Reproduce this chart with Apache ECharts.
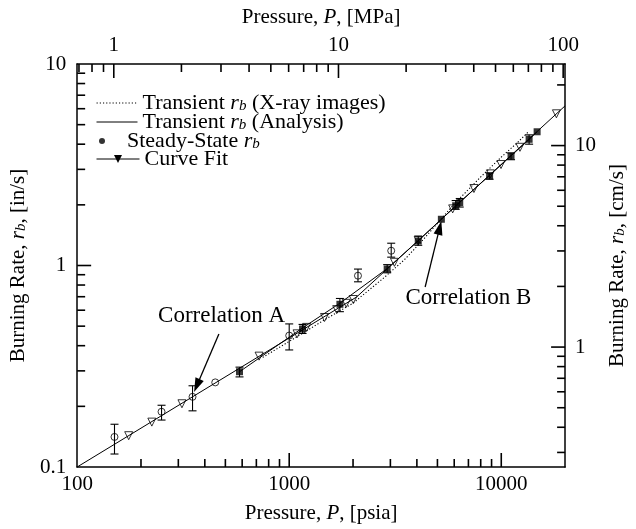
<!DOCTYPE html>
<html><head><meta charset="utf-8">
<script src="https://cdn.jsdelivr.net/npm/echarts@6/dist/echarts.min.js"></script>
<style>html,body{margin:0;padding:0;background:#fff}#c{width:636px;height:529px}</style>
</head><body><div id="c"></div>
<script>
const FONT = '"Liberation Serif","Times New Roman",serif';

// Curve fit (Correlation A then Correlation B): psia, in/s
const fitP = [100, 2080, 20000];
const fitR = [0.1, 0.698, 6.2];
// Curve-fit markers (open triangles)
const fitMarkP = [175, 225, 312, 721, 1089, 1208, 1468, 1675, 1857, 2005, 3135, 4060, 5900, 7430, 8890, 9970, 12250, 18200];
const fitMarkR = [0.143, 0.167, 0.206, 0.355, 0.458, 0.493, 0.552, 0.604, 0.649, 0.678, 1.037, 1.33, 1.91, 2.41, 2.85, 3.17, 3.86, 5.66];
// Transient r_b (Analysis)
const anaP = [583, 1156, 1734, 2897, 4060, 5218, 6230, 8810, 11120, 13530, 14760];
const anaR = [0.297, 0.49, 0.65, 0.965, 1.325, 1.696, 2.02, 2.8, 3.5, 4.22, 4.61];
// Transient r_b (X-ray images)
const xrayP = [750, 1000, 1500, 2000, 2800, 3500, 4300, 5000, 6000, 8000, 10000, 12000, 13400];
const xrayR = [0.35, 0.42, 0.545, 0.65, 0.87, 1.07, 1.35, 1.62, 2.02, 2.75, 3.45, 4.1, 4.6];
// Steady-state (filled squares) with error bars
const sqP  = [583, 1156, 1734, 2897, 4060, 5218, 6094, 6370, 8810, 11120, 13530, 14760];
const sqR  = [0.297, 0.484, 0.642, 0.961, 1.323, 1.696, 1.98, 2.05, 2.78, 3.49, 4.23, 4.61];
const sqLo = [0.28, 0.46, 0.59, 0.92, 1.26, null, 1.90, 1.95, 2.68, 3.35, 4.0, null];
const sqHi = [0.313, 0.51, 0.686, 1.01, 1.40, null, 2.10, 2.15, 2.88, 3.62, 4.45, null];
// Open circles with error bars
const ciP  = [150, 250, 350, 448, 1000, 2110, 3027];
const ciR  = [0.141, 0.188, 0.223, 0.263, 0.449, 0.89, 1.184];
const ciLo = [0.116, 0.171, 0.19, null, 0.381, 0.83, 1.10];
const ciHi = [0.163, 0.2025, 0.253, null, 0.513, 0.96, 1.29];

// Annotations: [psia, in/s]
const corrA_text = [480, 0.561];
const corrB_text = [7000, 0.690];
// arrows: [fromP, fromR, tipP, tipR]
const arrows = [
  [466, 0.457, 356, 0.2356],
  [4375, 0.782, 5218, 1.663]
];

// Tick values
const bottomMajor = [1000, 10000];
const bottomMinor = [200,300,400,500,600,700,800,900,2000,3000,4000,5000,6000,7000,8000,9000];
const topMajor = [1, 10, 100];
const topMinor = [0.7,0.8,0.9,2,3,4,5,6,7,8,9,20,30,40,50,60,70,80,90];
const leftMajor = [1];
const leftMinor = [0.2,0.3,0.4,0.5,0.6,0.7,0.8,0.9,2,3,4,5,6,7,8,9];
const rightMajor = [1, 10];
const rightMinor = [0.3,0.4,0.5,0.6,0.7,0.8,0.9,2,3,4,5,6,7,8,9,20];

const N_XRAY = 'Transient r_b (X-ray images)';
const N_ANA = 'Transient r_b (Analysis)';
const N_SS = 'Steady-State r_b';
const N_FIT = 'Curve Fit';

const zip = (a, b) => a.map((v, i) => [v, b[i]]);
const bars = [];
sqP.forEach((p, i) => { if (sqLo[i] != null) bars.push([p, sqLo[i], sqHi[i]]); });
ciP.forEach((p, i) => { if (ciLo[i] != null) bars.push([p, ciLo[i], ciHi[i]]); });

const BLACK = '#000';
const LEG_FS = 22, AX_FS = 21, ANN_FS = 23;
const rich = {
  i: { fontStyle: 'italic', fontFamily: FONT, fontSize: LEG_FS, color: BLACK },
  s: { fontStyle: 'italic', fontFamily: FONT, fontSize: 15, color: BLACK, verticalAlign: 'bottom', lineHeight: 14 }
};
const richAxis = {
  i: { fontStyle: 'italic', fontFamily: FONT, fontSize: AX_FS, color: BLACK },
  s: { fontStyle: 'italic', fontFamily: FONT, fontSize: 15, color: BLACK, verticalAlign: 'bottom', lineHeight: 14 }
};
const legendText = { fontFamily: FONT, fontSize: LEG_FS, color: BLACK, lineHeight: 22, rich: rich };
function fmtLegend(name) { return name.replace('r_b', '{i|r}{s|b}'); }
function fmtNum(v) { return String(+Number(v).toPrecision(6)); }

function axisCommon() {
  return {
    type: 'log', logBase: 10,
    axisLine: { show: true, lineStyle: { color: BLACK, width: 1.5 } },
    axisTick: { show: false },
    splitLine: { show: false },
    axisLabel: { color: BLACK, fontFamily: FONT, fontSize: AX_FS, formatter: fmtNum },
    nameLocation: 'middle',
    nameTextStyle: { color: BLACK, fontFamily: FONT, fontSize: AX_FS, rich: richAxis }
  };
}

const chart = echarts.init(document.getElementById('c'), null, { renderer: 'canvas' });
const xb = Object.assign(axisCommon(), { min: 100, max: 20000, position: 'bottom', name: 'Pressure, {i|P}, [psia]', nameGap: 36 });
xb.axisLabel = Object.assign({}, xb.axisLabel, { showMaxLabel: false, margin: 7 });
const xt = Object.assign(axisCommon(), { min: 0.687, max: 102, position: 'top', name: 'Pressure, {i|P}, [MPa]', nameGap: 36 });
xt.axisLabel = Object.assign({}, xt.axisLabel, { showMinLabel: false, showMaxLabel: false, margin: 8 });
const yl = Object.assign(axisCommon(), { min: 0.1, max: 10, position: 'left', name: 'Burning Rate, {i|r}{s|b}, [in/s]', nameGap: 42, nameRotate: 90 });
yl.axisLabel = Object.assign({}, yl.axisLabel, { margin: 11 });
const yr = Object.assign(axisCommon(), { min: 0.254, max: 25.4, position: 'right', name: 'Burning Rate, {i|r}{s|b}, [cm/s]', nameGap: 35, nameRotate: 90 });
yr.axisLabel = Object.assign({}, yr.axisLabel, { showMinLabel: false, showMaxLabel: false, margin: 10 });

// Axes and data series
try {
  chart.setOption({
    animation: false,
    grid: { left: 67, right: 56, top: 64, bottom: 60 },
    xAxis: [xb, xt],
    yAxis: [yl, yr],
    series: [
      { id: 'xray', name: N_XRAY, type: 'line', data: zip(xrayP, xrayR), symbol: 'none', z: 2,
        lineStyle: { color: BLACK, width: 1.1, type: [1.2, 2] }, itemStyle: { color: BLACK } },
      { id: 'ana', name: N_ANA, type: 'line', data: zip(anaP, anaR), symbol: 'none', z: 2,
        lineStyle: { color: BLACK, width: 1 }, itemStyle: { color: BLACK } },
      { id: 'fit', name: N_FIT, type: 'line', data: zip(fitP, fitR), symbol: 'triangle', symbolRotate: 180, showSymbol: false, z: 3,
        lineStyle: { color: BLACK, width: 1 }, itemStyle: { color: BLACK } },
      { id: 'rightHelper', name: 'rightHelper', type: 'line', yAxisIndex: 1, data: [], symbol: 'none' },
      { id: 'topHelper', name: 'topHelper', type: 'line', xAxisIndex: 1, data: [], symbol: 'none' },
      { id: 'arrows', name: 'arrows', type: 'custom', data: arrows, z: 7,
        encode: { x: [0, 2], y: [1, 3] },
        renderItem: function (params, api) {
          const a = api.coord([api.value(0), api.value(1)]);
          const b = api.coord([api.value(2), api.value(3)]);
          const dx = b[0] - a[0], dy = b[1] - a[1];
          const d = Math.sqrt(dx * dx + dy * dy);
          const ux = dx / d, uy = dy / d, nx = -uy, ny = ux;
          const HL = 14, HW = 4.5;
          const bx = b[0] - ux * HL, by = b[1] - uy * HL;
          return { type: 'group', children: [
            { type: 'line', shape: { x1: a[0], y1: a[1], x2: bx + ux * 2, y2: by + uy * 2 }, style: { stroke: BLACK, lineWidth: 1.3 } },
            { type: 'polygon', shape: { points: [[b[0], b[1]], [bx + nx * HW, by + ny * HW], [bx - nx * HW, by - ny * HW]] }, style: { fill: BLACK } }
          ] };
        } },
      { id: 'fitMarks', name: 'fitMarks', type: 'scatter', data: zip(fitMarkP, fitMarkR), symbol: 'triangle', symbolRotate: 180, symbolSize: 8, z: 5,
        itemStyle: { color: 'rgba(255,255,255,0)', borderColor: BLACK, borderWidth: 1 } },
      { id: 'errorBars', name: 'errorBars', type: 'custom', data: bars, z: 4,
        encode: { x: 0, y: [1, 2] },
        renderItem: function (params, api) {
          const x = api.value(0);
          const a = api.coord([x, api.value(1)]);
          const b = api.coord([x, api.value(2)]);
          const w = 4;
          const st = { stroke: BLACK, lineWidth: 1.1 };
          return { type: 'group', children: [
            { type: 'line', shape: { x1: a[0], y1: a[1], x2: b[0], y2: b[1] }, style: st },
            { type: 'line', shape: { x1: a[0] - w, y1: a[1], x2: a[0] + w, y2: a[1] }, style: st },
            { type: 'line', shape: { x1: b[0] - w, y1: b[1], x2: b[0] + w, y2: b[1] }, style: st }
          ] };
        } },
      { id: 'squares', name: N_SS, type: 'scatter', data: zip(sqP, sqR), symbol: 'rect', symbolSize: 7, z: 6,
        itemStyle: { color: BLACK } },
      { id: 'circles', name: 'openCircles', type: 'scatter', data: zip(ciP, ciR), symbol: 'circle', symbolSize: 7, z: 6,
        itemStyle: { color: 'rgba(255,255,255,0)', borderColor: BLACK, borderWidth: 1 } }
    ]
  });
} catch (e) { console.error(e); }

// Pixel lookup through the chart's own scales, trying several finders
function px(tries) {
  for (const t of tries) {
    try {
      let r = chart.convertToPixel(t[0], t[1]);
      if (Array.isArray(r)) r = r[t[2]];
      if (typeof r === 'number' && isFinite(r)) return r;
    } catch (e) { /* try next */ }
  }
  return NaN;
}
const xB = v => px([[{ seriesId: 'fit' }, [v, 1], 0], [{ xAxisIndex: 0, yAxisIndex: 0 }, [v, 1], 0], [{ xAxisIndex: 0 }, v, 0]]);
const xT = v => px([[{ xAxisIndex: 1 }, v, 0], [{ seriesId: 'topHelper' }, [v, 1], 0], [{ xAxisIndex: 1, yAxisIndex: 0 }, [v, 1], 0]]);
const yL = v => px([[{ seriesId: 'fit' }, [1000, v], 1], [{ yAxisIndex: 0 }, v, 1], [{ xAxisIndex: 0, yAxisIndex: 0 }, [1000, v], 1]]);
const yR = v => px([[{ seriesId: 'rightHelper' }, [1000, v], 1], [{ yAxisIndex: 1 }, v, 1], [{ xAxisIndex: 0, yAxisIndex: 1 }, [1000, v], 1]]);

// Inward axis ticks
try {
  const els = [];
  const yBottom = yL(0.1), yTop = yL(10);
  const xLeft = xB(100), xRight = xB(20000);
  const add = (x1, y1, x2, y2) => {
    if (![x1, y1, x2, y2].every(isFinite)) return;
    els.push({ type: 'line', z: 20, shape: { x1: x1, y1: y1, x2: x2, y2: y2 }, style: { stroke: BLACK, lineWidth: 1.6 } });
  };
  const MAJ = 14, MIN = 8;
  bottomMajor.forEach(v => { const x = xB(v); add(x, yBottom, x, yBottom - MAJ); });
  bottomMinor.forEach(v => { const x = xB(v); add(x, yBottom, x, yBottom - MIN); });
  topMajor.forEach(v => { const x = xT(v); add(x, yTop, x, yTop + MAJ); });
  topMinor.forEach(v => { const x = xT(v); add(x, yTop, x, yTop + MIN); });
  leftMajor.forEach(v => { const y = yL(v); add(xLeft, y, xLeft + MAJ, y); });
  leftMinor.forEach(v => { const y = yL(v); add(xLeft, y, xLeft + MIN, y); });
  rightMajor.forEach(v => { const y = yR(v); add(xRight, y, xRight - MAJ, y); });
  rightMinor.forEach(v => { const y = yR(v); add(xRight, y, xRight - MIN, y); });
  chart.setOption({ graphic: { elements: els } });
} catch (e) { console.error(e); }

// Legend
try {
  chart.setOption({
    legend: [
      { left: 96, top: 92, orient: 'vertical', padding: 0, itemWidth: 41, itemHeight: 10, selectedMode: false,
        formatter: fmtLegend, textStyle: legendText,
        data: [{ name: N_XRAY, itemStyle: { opacity: 0 }, lineStyle: { type: [1.2, 2], width: 1.1, color: BLACK } }] },
      { left: 96, top: 111, orient: 'vertical', padding: 0, itemWidth: 41, itemHeight: 10, selectedMode: false,
        formatter: fmtLegend, textStyle: legendText,
        data: [{ name: N_ANA, itemStyle: { opacity: 0 }, lineStyle: { type: 'solid', width: 1, color: BLACK } }] },
      { left: 99, top: 130, orient: 'vertical', padding: 0, itemWidth: 40, itemHeight: 6, selectedMode: false,
        formatter: fmtLegend, textStyle: legendText,
        data: [{ name: N_SS, icon: 'circle', itemStyle: { color: BLACK, borderWidth: 0 } }] },
      { left: 96, top: 148, orient: 'vertical', padding: 0, itemWidth: 43, itemHeight: 10, selectedMode: false,
        formatter: fmtLegend, textStyle: legendText,
        data: [{ name: N_FIT, itemStyle: { color: BLACK, borderWidth: 0 }, lineStyle: { type: 'solid', width: 1, color: BLACK } }] }
    ]
  });
} catch (e) { console.error(e); }

// Annotation labels
try {
  chart.setOption({ series: [{ id: 'fit',
    markPoint: {
      symbol: 'rect', symbolSize: 0,
      label: { show: true, position: 'inside', formatter: '{b}', color: BLACK, fontFamily: FONT, fontSize: ANN_FS },
      data: [
        { name: 'Correlation A', coord: corrA_text },
        { name: 'Correlation B', coord: corrB_text }
      ]
    } }] });
} catch (e) { console.error(e); }
</script></body></html>
